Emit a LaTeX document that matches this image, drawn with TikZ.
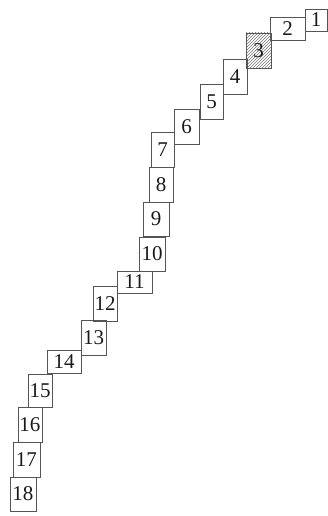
\documentclass[tikz,border=0pt]{standalone}
\usepackage{fontspec}
\setmainfont{Liberation Serif}
\usepackage{tikz}
\usetikzlibrary{patterns}
\definecolor{boxInk}{HTML}{555555}
\definecolor{numInk}{HTML}{1A1A1A}
\tikzset{
  cellv/.style={rectangle,draw=boxInk,line width=0.8pt,inner sep=0pt,
    minimum width=24pt,minimum height=35pt,
    font=\fontsize{21}{24}\selectfont,text=numInk},
  cellh/.style={cellv,minimum width=35pt,minimum height=23pt},
  cellq/.style={cellv,minimum width=22pt,minimum height=22pt},
  marked/.style={pattern=north east lines,pattern color=boxInk!80},
}
\begin{document}
\begin{tikzpicture}[x=1pt,y=-1pt]
  \useasboundingbox (0,0) rectangle (328,516);

  % staircase of cells, from top right down to bottom left
  \node[cellq] (c1) at (316,20) {1};
  \node[cellh] (c2) at (287.5,28.5) {2};
  \node[cellv,marked,minimum width=25pt] (c3) at (258.5,50.5) {3};
  \node[cellv] (c4) at (235,76.5) {4};
  \node[cellv,minimum width=23pt] (c5) at (211.5,101.5) {5};
  \node[cellv,minimum width=25pt] (c6) at (186.5,126.5) {6};
  \node[cellv,minimum width=23pt] (c7) at (162.5,149.5) {7};
  \node[cellv] (c8) at (161,184.5) {8};
  \node[cellv,minimum width=26pt,minimum height=34pt] (c9) at (156,219) {9};
  \node[cellv,minimum width=26pt,minimum height=34pt] (c10) at (152,254) {10};
  \node[cellh,minimum height=22pt] (c11) at (134.5,282) {11};
  \node[cellv] (c12) at (105,303.5) {12};
  \node[cellv,minimum width=25pt] (c13) at (93.5,337.5) {13};
  \node[cellh,minimum width=34pt] (c14) at (64,361.5) {14};
  \node[cellv,minimum height=33pt] (c15) at (40,390.5) {15};
  \node[cellv] (c16) at (30,424.5) {16};
  \node[cellv,minimum width=27pt] (c17) at (26.5,459.5) {17};
  \node[cellv,minimum width=26pt,minimum height=34pt] (c18) at (23,494) {18};
\end{tikzpicture}
\end{document}
